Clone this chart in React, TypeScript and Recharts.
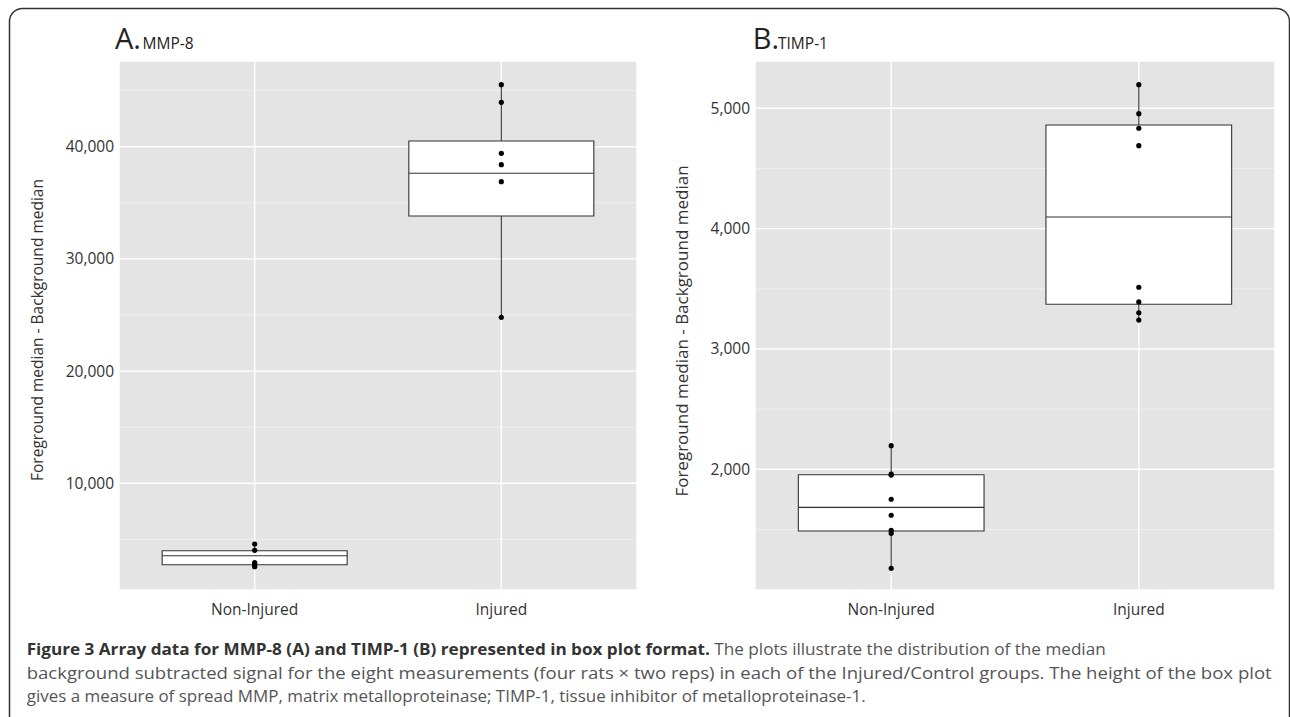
import { ComposedChart, XAxis, YAxis, CartesianGrid, Scatter, ReferenceArea, ReferenceLine } from 'recharts';

const groups = ['Non-Injured', 'Injured'];

// Panel A, MMP-8: single measurements per group
const mmpNonInjured = [4590, 4029, 2923, 2800, 2718, 2567];
const mmpInjured = [45526, 43957, 39412, 38396, 36881, 24795];
// box stats per group: [min, q1, median, q3, max]
const mmpBoxes = [
  [2567, 2745, 3547, 3993, 4590],
  [24795, 33824, 37629, 40508, 45526],
];
const mmpTicks = [10000, 20000, 30000, 40000];
const mmpMinor = [5000, 15000, 25000, 35000, 45000];
const mmpDomain = [490, 47640];

// Panel B, TIMP-1
const timpNonInjured = [2196, 1960, 1952, 1751, 1618, 1492, 1468, 1177];
const timpInjured = [5196, 4955, 4834, 4689, 3513, 3391, 3301, 3240];
const timpBoxes = [
  [1177, 1487, 1684, 1955, 2196],
  [3240, 3372, 4097, 4861, 5196],
];
const timpTicks = [2000, 3000, 4000, 5000];
const timpMinor = [1500, 2500, 3500, 4500];
const timpDomain = [997, 5393];

const FONT = '"Open Sans", "DejaVu Sans", sans-serif';
const BOX_HALF = 0.375;

type PanelProps = {
  left: number;
  width: number;
  yAxisWidth: number;
  marginRight: number;
  domain: number[];
  ticks: number[];
  minor: number[];
  values: number[][];
  boxes: number[][];
};

function BoxPanel({ left, width, yAxisWidth, marginRight, domain, ticks, minor, values, boxes }: PanelProps) {
  const points = values.flatMap((vals, i) => vals.map((v) => ({ x: i + 1, y: v })));
  const tickStyle = { fill: '#333', fontSize: 15.5, fontFamily: FONT };

  return (
    <div style={{ position: 'absolute', left, top: 0 }}>
      <ComposedChart
        width={width}
        height={640}
        data={points}
        margin={{ top: 61, right: marginRight, bottom: 0, left: 0 }}
      >
        <CartesianGrid fill="#e4e4e4" stroke="#ffffff" strokeWidth={1.4} />
        <CartesianGrid horizontalValues={minor} vertical={false} stroke="#ffffff" strokeOpacity={0.55} strokeWidth={0.8} />
        <XAxis
          type="number"
          dataKey="x"
          domain={[0.45, 2.55]}
          ticks={[1, 2]}
          allowDataOverflow
          tickFormatter={(v: number) => groups[v - 1]}
          axisLine={false}
          tickLine={false}
          tickSize={6}
          tickMargin={8}
          height={50}
          tick={tickStyle}
          interval={0}
        />
        <YAxis
          type="number"
          dataKey="y"
          domain={domain}
          ticks={ticks}
          allowDataOverflow
          tickFormatter={(v: number) => v.toLocaleString('en-US')}
          axisLine={false}
          tickLine={false}
          tickSize={3}
          tickMargin={2}
          width={yAxisWidth}
          tick={tickStyle}
          interval={0}
        />
        {boxes.map((b, i) => (
          <ReferenceLine
            key={'wl' + i}
            segment={[{ x: i + 1, y: b[0] }, { x: i + 1, y: b[1] }]}
            stroke="#333"
            strokeWidth={1.1}
          />
        ))}
        {boxes.map((b, i) => (
          <ReferenceLine
            key={'wh' + i}
            segment={[{ x: i + 1, y: b[3] }, { x: i + 1, y: b[4] }]}
            stroke="#333"
            strokeWidth={1.1}
          />
        ))}
        {boxes.map((b, i) => (
          <ReferenceArea
            key={'box' + i}
            x1={i + 1 - BOX_HALF}
            x2={i + 1 + BOX_HALF}
            y1={b[1]}
            y2={b[3]}
            fill="#ffffff"
            fillOpacity={1}
            stroke="#333"
            strokeWidth={1.1}
          />
        ))}
        {boxes.map((b, i) => (
          <ReferenceLine
            key={'med' + i}
            segment={[{ x: i + 1 - BOX_HALF, y: b[2] }, { x: i + 1 + BOX_HALF, y: b[2] }]}
            stroke="#333"
            strokeWidth={1.1}
          />
        ))}
        <Scatter
          dataKey="y"
          isAnimationActive={false}
          shape={(p: any) => <circle cx={p.cx} cy={p.cy} r={2.6} fill="#000" />}
        />
      </ComposedChart>
    </div>
  );
}

export default function App() {
  return (
    <div style={{ position: 'absolute', left: 0, top: 0, width: 1290, height: 717, background: '#fff', fontFamily: FONT, overflow: 'hidden' }}>
      <svg width={1290} height={717} style={{ position: 'absolute', left: 0, top: 0 }}>
        <rect x={9.5} y={8.5} width={1280} height={722} rx={13} fill="none" stroke="#333" strokeWidth={1.5} />
        <text x={115} y={48.7} fontSize={29} fill="#222" fontFamily={FONT}>A.</text>
        <text x={142.5} y={48.7} fontSize={15.5} fill="#222" fontFamily={FONT}>MMP-8</text>
        <text x={752.7} y={48.7} fontSize={29} fill="#222" fontFamily={FONT}>B.</text>
        <text x={778} y={48.7} fontSize={15.5} fill="#222" fontFamily={FONT}>TIMP-1</text>
        <text transform="translate(42.5,330) rotate(-90)" textAnchor="middle" fontSize={15.5} fill="#333" fontFamily={FONT}>
          Foreground median - Background median
        </text>
        <text transform="translate(688,331) rotate(-90)" textAnchor="middle" fontSize={17} fill="#333" fontFamily={FONT}>
          Foreground median - Background median
        </text>
        <text x={26.7} y={655} fontSize={16} fill="#555" fontFamily={FONT} textLength={1079} lengthAdjust="spacingAndGlyphs">
          <tspan fontWeight="bold" fill="#333">Figure 3 Array data for MMP-8 (A) and TIMP-1 (B) represented in box plot format.</tspan>
          <tspan> The plots illustrate the distribution of the median</tspan>
        </text>
        <text x={26.7} y={678.5} fontSize={16} fill="#555" fontFamily={FONT} textLength={1245} lengthAdjust="spacingAndGlyphs">
          background subtracted signal for the eight measurements (four rats × two reps) in each of the Injured/Control groups. The height of the box plot
        </text>
        <text x={26.7} y={702} fontSize={16} fill="#555" fontFamily={FONT} textLength={839} lengthAdjust="spacingAndGlyphs">
          gives a measure of spread MMP, matrix metalloproteinase; TIMP-1, tissue inhibitor of metalloproteinase-1.
        </text>
      </svg>
      <BoxPanel
        left={0}
        width={650}
        yAxisWidth={119}
        marginRight={13}
        domain={mmpDomain}
        ticks={mmpTicks}
        minor={mmpMinor}
        values={[mmpNonInjured, mmpInjured]}
        boxes={mmpBoxes}
      />
      <BoxPanel
        left={636}
        width={650}
        yAxisWidth={119}
        marginRight={11}
        domain={timpDomain}
        ticks={timpTicks}
        minor={timpMinor}
        values={[timpNonInjured, timpInjured]}
        boxes={timpBoxes}
      />
    </div>
  );
}
